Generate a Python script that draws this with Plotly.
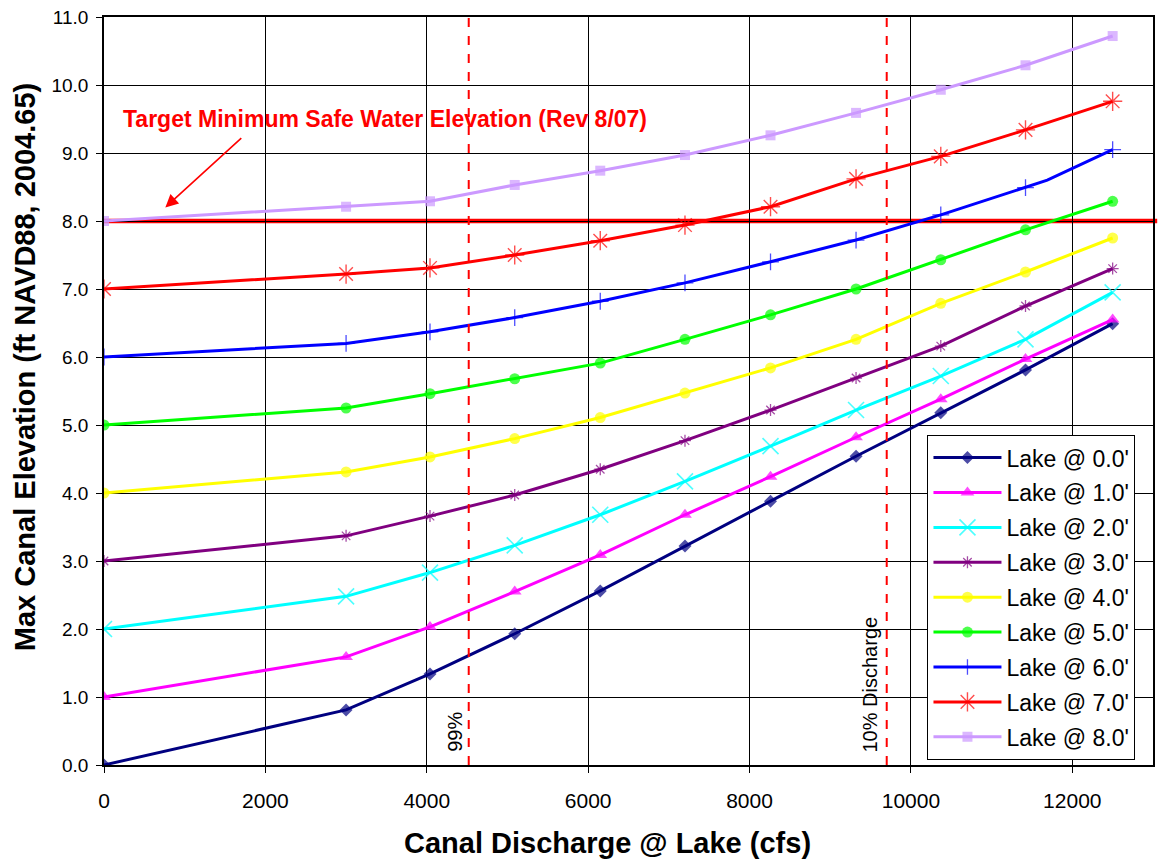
import plotly.graph_objects as go

# Discharge (cfs) at the tabulated points of each rating curve
discharge = [0, 3000, 4040, 5090, 6150, 7200, 8260, 9320, 10370, 11420, 12500]

lake_0 = [0.00, 0.81, 1.34, 1.93, 2.56, 3.22, 3.88, 4.54, 5.18, 5.81, 6.49]
lake_1 = [1.00, 1.59, 2.03, 2.55, 3.09, 3.68, 4.24, 4.82, 5.38, 5.97, 6.55]
lake_2 = [2.00, 2.48, 2.83, 3.23, 3.68, 4.17, 4.69, 5.22, 5.72, 6.26, 6.95]
lake_3 = [3.00, 3.37, 3.66, 3.97, 4.35, 4.77, 5.22, 5.69, 6.16, 6.75, 7.30]
lake_4 = [4.00, 4.31, 4.53, 4.80, 5.11, 5.47, 5.84, 6.26, 6.79, 7.25, 7.75]
lake_5 = [5.00, 5.25, 5.46, 5.68, 5.91, 6.26, 6.62, 7.00, 7.43, 7.87, 8.29]
lake_6 = [6.00, 6.20, 6.37, 6.58, 6.82, 7.09, 7.40, 7.72, 8.09, 8.49, 9.05]
lake_7 = [7.00, 7.22, 7.31, 7.50, 7.71, 7.94, 8.21, 8.62, 8.95, 9.34, 9.76]
lake_8 = [8.00, 8.21, 8.29, 8.53, 8.74, 8.97, 9.26, 9.59, 9.93, 10.29, 10.72]

# extra unmarked bend on the 6.0' curve
lake_6_bend_x = 11690
lake_6_bend_y = 8.60

series_names = ["Lake @ 0.0'", "Lake @ 1.0'", "Lake @ 2.0'", "Lake @ 3.0'", "Lake @ 4.0'",
                "Lake @ 5.0'", "Lake @ 6.0'", "Lake @ 7.0'", "Lake @ 8.0'"]
series_values = [lake_0, lake_1, lake_2, lake_3, lake_4, lake_5, lake_6, lake_7, lake_8]

target_elev = 8.0
pct99_discharge = 4520
pct10_discharge = 9700

y_ticks = [0, 1, 2, 3, 4, 5, 6, 7, 8, 9, 10, 11]
x_ticks = [0, 2000, 4000, 6000, 8000, 10000, 12000]

styles = [
    dict(color="#000080", symbol="diamond", size=10, lw=0),
    dict(color="#FF00FF", symbol="triangle-up", size=12, lw=0),
    dict(color="#00FFFF", symbol="x-thin-open", size=16, lw=1.6),
    dict(color="#800080", symbol="asterisk-open", size=10, lw=1.3),
    dict(color="#FFFF00", symbol="circle", size=11, lw=0),
    dict(color="#00FF00", symbol="circle", size=11, lw=0),
    dict(color="#0000FF", symbol="cross-thin-open", size=12, lw=1.3),
    dict(color="#FF0000", symbol="asterisk-open", size=16, lw=1.4),
    dict(color="#CC99FF", symbol="square", size=10, lw=0),
]

TITLE_FONT = "Liberation Sans Narrow, Arial Narrow, Liberation Sans"

fig = go.Figure()

# target elevation line sits beneath the curves
fig.add_shape(type="line", xref="paper", yref="y", x0=0, x1=1.004,
              y0=target_elev, y1=target_elev,
              line=dict(color="#FF0000", width=4.5), layer="below")

for i, (name, vals, st) in enumerate(zip(series_names, series_values, styles)):
    xs = list(discharge)
    ys = list(vals)
    sizes = [st["size"]] * len(xs)
    if name == "Lake @ 6.0'":
        xs.insert(-1, lake_6_bend_x)
        ys.insert(-1, lake_6_bend_y)
        sizes.insert(-1, 0)
    fig.add_trace(go.Scatter(
        x=xs, y=ys, name=name, mode="lines+markers", legendgroup=f"g{i}",
        line=dict(color=st["color"], width=3),
        marker=dict(symbol=st["symbol"], size=sizes, color=st["color"],
                    line=dict(color=st["color"], width=st["lw"])),
    ))

# percentile discharge markers
for xv in (pct99_discharge, pct10_discharge):
    fig.add_shape(type="line", xref="x", yref="paper", x0=xv, x1=xv, y0=0, y1=1,
                  line=dict(color="#FF0000", width=2, dash="dash"))

fig.add_annotation(x=4352, y=0.49, text="99%", textangle=-90,
                   showarrow=False, xanchor="center", yanchor="middle",
                   font=dict(family="Liberation Sans, Arial", size=20, color="black"))
fig.add_annotation(x=9498, y=1.19, text="10% Discharge", textangle=-90,
                   showarrow=False, xanchor="center", yanchor="middle",
                   font=dict(family="Liberation Sans, Arial", size=20, color="black"))

fig.add_annotation(x=3480, y=9.5, text="<b>Target Minimum Safe Water Elevation (Rev 8/07)</b>",
                   showarrow=False, xanchor="center", yanchor="middle",
                   font=dict(family="Liberation Sans, Arial", size=23, color="#FF0000"))
fig.add_annotation(x=760, y=8.2, ax=1720, ay=9.24, axref="x", ayref="y", text="",
                   showarrow=True, arrowhead=2, arrowsize=1.6, arrowwidth=1.6,
                   arrowcolor="#FF0000")

# axis titles
fig.add_annotation(xref="paper", yref="paper", x=-0.0752, y=0.532,
                   text="<b>Max Canal Elevation (ft NAVD88, 2004.65)</b>", textangle=-90,
                   showarrow=False, xanchor="center", yanchor="middle",
                   font=dict(family=TITLE_FONT, size=29, color="black"))
fig.add_annotation(xref="paper", yref="paper", x=0.4796, y=-0.104,
                   text="<b>Canal Discharge @ Lake (cfs)</b>",
                   showarrow=False, xanchor="center", yanchor="middle",
                   font=dict(family=TITLE_FONT, size=29, color="black"))

fig.update_layout(
    width=1159, height=859,
    margin=dict(l=104, r=4, t=17, b=94),
    paper_bgcolor="white", plot_bgcolor="white",
    font=dict(family="Liberation Sans, Arial", color="black"),
    showlegend=True,
    legend=dict(x=0.785, y=0.441, xanchor="left", yanchor="top",
                bgcolor="white", bordercolor="black", borderwidth=1,
                font=dict(family="Liberation Sans, Arial", size=23, color="black"),
                itemwidth=68, tracegroupgap=2,
                entrywidth=226, entrywidthmode="pixels"),
    xaxis=dict(range=[0, 13000], tickvals=x_ticks, ticktext=[str(v) for v in x_ticks],
               showgrid=True, gridcolor="black", gridwidth=1,
               showline=True, linecolor="black", linewidth=1.5, mirror=True,
               ticks="outside", ticklen=6, tickcolor="black", ticklabelstandoff=10,
               tickfont=dict(family=TITLE_FONT, size=21),
               zeroline=False),
    yaxis=dict(range=[0, 11], tickvals=y_ticks, ticktext=[f"{v:.1f}" for v in y_ticks],
               showgrid=True, gridcolor="black", gridwidth=1,
               showline=True, linecolor="black", linewidth=1.5, mirror=True,
               ticks="outside", ticklen=6, tickcolor="black", ticklabelstandoff=4,
               tickfont=dict(family="Liberation Sans, Arial", size=19),
               zeroline=False),
)

fig.write_html("out.html")
